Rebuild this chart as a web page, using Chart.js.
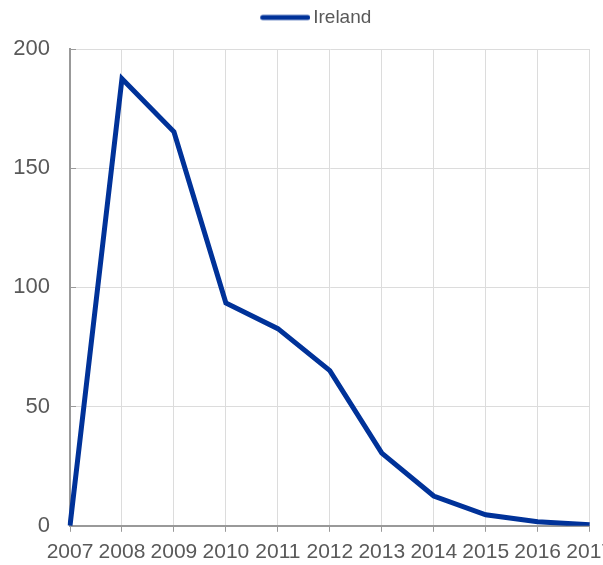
<!DOCTYPE html>
<html>
<head>
<meta charset="utf-8">
<script src="https://cdn.jsdelivr.net/npm/chart.js@4/dist/chart.umd.min.js"></script>
<style>
html,body{margin:0;padding:0;overflow:hidden;background:#fff;width:603px;height:565px;}
#wrap{width:621px;height:565px;}
</style>
</head>
<body>
<div id="wrap"><canvas id="c" width="621" height="565"></canvas></div>
<script>
const years = ['2007','2008','2009','2010','2011','2012','2013','2014','2015','2016','2017'];
const ireland = [0, 187.5, 165.3, 93.5, 82.7, 65.1, 30.5, 12.5, 4.6, 1.7, 0.4];
const yTicks = [0, 50, 100, 150, 200];
const lineColor = '#003299';

Chart.defaults.font.family = '"Liberation Sans", Arial, sans-serif';
Chart.defaults.color = '#595959';

// legend marker: a short thick line drawn on the right part of a wider transparent image
const marker = document.createElement('canvas');
marker.width = 67; marker.height = 8;
(function(){
  const g = marker.getContext('2d');
  g.strokeStyle = lineColor; g.lineWidth = 5; g.lineCap = 'round';
  g.beginPath(); g.moveTo(19.5, 4); g.lineTo(64.5, 4); g.stroke();
})();

const legendGap = {
  id: 'legendGap',
  beforeInit(chart) {
    const orig = chart.legend.fit;
    chart.legend.fit = function() { orig.call(this); this.height += 12; };
  }
};

new Chart(document.getElementById('c'), {
  type: 'line',
  data: {
    labels: years,
    datasets: [{
      label: 'Ireland',
      data: ireland,
      borderColor: lineColor,
      backgroundColor: lineColor,
      borderWidth: 5,
      pointRadius: 0,
      tension: 0,
      fill: false,
      borderJoinStyle: 'miter'
    }]
  },
  plugins: [legendGap],
  options: {
    responsive: false,
    animation: false,
    devicePixelRatio: 1,
    layout: { padding: 0 },
    plugins: {
      legend: {
        display: true,
        position: 'top',
        labels: {
          usePointStyle: true,
          pointStyle: marker,
          pointStyleWidth: 54,
          font: { size: 19 },
          color: '#595959',
          padding: 8
        }
      },
      tooltip: { enabled: false }
    },
    scales: {
      x: {
        offset: false,
        afterFit: s => { s.height = 37; },
        grid: { color: '#dcdcdc', tickColor: '#999999', tickLength: 6, drawTicks: true },
        border: { color: '#999999', width: 2 },
        ticks: { autoSkip: false, maxRotation: 0, minRotation: 0, padding: 8, font: { size: 21 }, color: '#595959' }
      },
      y: {
        min: 0, max: 200,
        afterBuildTicks: s => { s.ticks = yTicks.map(v => ({ value: v })); },
        afterFit: s => { s.width = 70; },
        grid: { color: '#dcdcdc', tickColor: '#999999', drawTicks: true, tickLength: -6 },
        border: { color: '#999999', width: 2 },
        ticks: { padding: 26, font: { size: 22 }, color: '#595959' }
      }
    }
  }
});
</script>
</body>
</html>
